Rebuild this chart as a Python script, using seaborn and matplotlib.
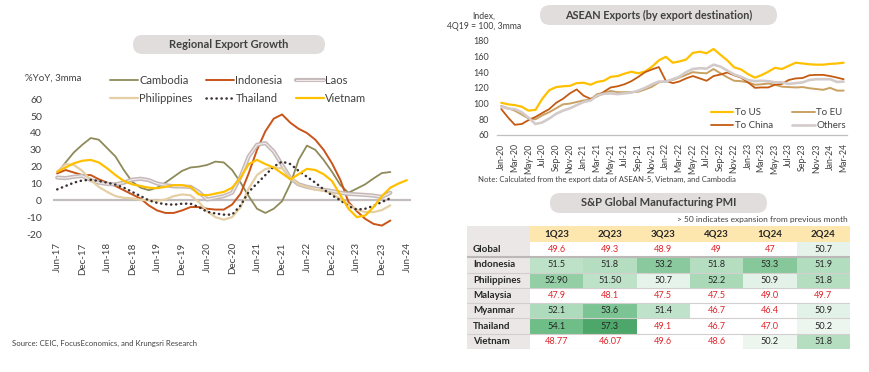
import numpy as np
import pandas as pd
import matplotlib
matplotlib.use("Agg")
import matplotlib.pyplot as plt
import matplotlib.patheffects as pe
from matplotlib.patches import FancyBboxPatch, Rectangle
from matplotlib.colors import LinearSegmentedColormap
import seaborn as sns

# ---------------- data: Regional Export Growth (%YoY, 3mma), bimonthly readings from Jun-17
growth_start = "2017-06-01"
cambodia = [16, 22.5, 28.5, 33, 37, 36, 31, 26, 18, 11,
            7.5, 6, 7.5, 10.5, 14, 17.5, 19.5, 20, 21, 23,
            22.5, 18, 10.5, 2.5, -5, -7.5, -5, -0.5, 10, 24,
            32.5, 30, 24, 17, 9, 4.5, 7, 9.5, 13, 16.2, 16.8]
indonesia = [16, 18, 16.5, 15, 15, 12.5, 10.5, 8.5, 6, 3.5,
             1, -3, -6, -7.5, -7.5, -6, -4, -4, -5, -5.5,
             -5.5, -2.5, 4, 16, 30, 41, 48.5, 51, 46, 42.5,
             40, 36, 30, 22, 12, -1, -6.5, -11, -14, -15, -12]
laos = [13.5, 13.2, 14, 14.5, 12, 10.5, 9.7, 9.5, 10.5, 12.3,
        12.8, 12, 10, 9, 8.3, 8.2, 8, 5, 0.5, 1.5,
        2.5, 4.5, 14, 26, 33, 34, 29, 21, 13, 9.5,
        8, 7, 6.3, 5.5, 4.5, 3.8, 3.5, 3.2, 2.8, 2, 4.5]
philippines = [17, 21.5, 21, 17.5, 12, 8, 5, 2.5, 1.5, 1.2,
               0.3, 0, -0.3, 0.5, 2.5, 3.5, 3, -1, -6.5, -10,
               -11.5, -10, -4, 7, 15, 18.6, 19.5, 19, 13.5, 9.5,
               8, 6.3, 5.8, 4, 0.8, -2.5, -5.5, -7, -7, -5.8, -3]
thailand = [6.5, 8.5, 10.5, 11.8, 12.2, 11.5, 10.5, 9.3, 7.5, 5,
            2.5, 0, -1.5, -2.3, -2.6, -2, -2, -4, -6.8, -7.8,
            -8.5, -8.5, -3, 5, 10, 15, 20, 23, 21.5, 17.5,
            14, 10.5, 6.5, 3, 0, -3.5, -5.5, -5, -3.3, -1, 1.3]
vietnam = [17, 19.5, 22, 23.5, 24, 22.5, 19, 15, 11.5, 9.5,
           8.5, 7.5, 7.2, 8, 9, 9, 8, 3.5, 3, 4,
           5, 7.5, 13.5, 21.5, 24, 21.5, 19.5, 16, 12.5, 15.5,
           18.7, 18, 15.5, 11.5, 3, -5, -10, -9, -4, 2.5,
           7.5, 10, 12]
growth_ticks = ["Jun-17", "Dec-17", "Jun-18", "Dec-18", "Jun-19", "Dec-19", "Jun-20",
                "Dec-20", "Jun-21", "Dec-21", "Jun-22", "Dec-22", "Jun-23", "Dec-23", "Jun-24"]

# ---------------- data: ASEAN Exports by destination (Index 4Q19=100, 3mma), monthly from Jan-20
exports_start = "2020-01-01"
to_us = [101, 99, 98, 96, 91, 92, 106, 117, 121, 122,
         122.5, 126, 126.5, 124, 127.5, 129, 134, 135, 138, 140.5,
         138.5, 141, 147, 155, 159.5, 152, 153.5, 156, 164.5, 166,
         164, 169.5, 162, 155, 146, 143.5, 137.5, 133, 136, 140.5,
         145.5, 144, 148, 152, 151, 150, 149.5, 149.5, 150.5, 151, 152]
to_eu = [97, 94, 91, 86, 81, 80, 85, 89, 94, 99,
         100, 102, 104, 105, 112, 113.5, 116, 114.5, 114.5, 114.5,
         115, 118, 121.5, 127, 128, 130, 133, 136.5, 140, 139,
         138.5, 144, 138.5, 133.5, 129, 128.5, 127, 124, 124.5, 125.5,
         124, 121.5, 121, 120.5, 121, 119.5, 118.5, 117.5, 120, 116.5, 116.5]
to_china = [93, 82, 73, 74, 79, 83, 88, 93, 101, 106,
            113, 118, 110, 106, 109, 115, 120.5, 122, 124.5, 128.5,
            134, 140, 143.5, 146.5, 129, 126, 128, 132, 135, 132,
            129, 135, 137, 139.5, 136, 133, 127, 120, 120.5, 120.5,
            124, 125, 130, 132, 132.5, 136, 136.5, 136.5, 135, 133, 131]
others = [96, 93.5, 93, 89, 82, 74, 76, 81, 87, 91,
          94, 98, 102, 104, 110, 112.5, 113, 112, 113, 114,
          116.5, 120, 124.5, 128, 128, 131, 134, 140, 144, 145,
          144.5, 149.5, 147, 142, 137, 134, 130, 128.5, 129, 128.5,
          127, 127, 125, 126, 127, 130, 131, 131, 131, 127.5, 128]
export_ticks = ["Jan-20", "Mar-20", "May-20", "Jul-20", "Sep-20", "Nov-20",
                "Jan-21", "Mar-21", "May-21", "Jul-21", "Sep-21", "Nov-21",
                "Jan-22", "Mar-22", "May-22", "Jul-22", "Sep-22", "Nov-22",
                "Jan-23", "Mar-23", "May-23", "Jul-23", "Sep-23", "Nov-23",
                "Jan-24", "Mar-24"]

# ---------------- data: S&P Global Manufacturing PMI
pmi_quarters = ["1Q23", "2Q23", "3Q23", "4Q23", "1Q24", "2Q24"]
pmi_countries = ["Global", "Indonesia", "Philippines", "Malaysia", "Myanmar", "Thailand", "Vietnam"]
pmi_global = ["49.6", "49.3", "48.9", "49", "47", "50.7"]
pmi_indonesia = ["51.5", "51.8", "53.2", "51.8", "53.3", "51.9"]
pmi_philippines = ["52.90", "51.50", "50.7", "52.2", "50.9", "51.8"]
pmi_malaysia = ["47.9", "48.1", "47.5", "47.5", "49.0", "49.7"]
pmi_myanmar = ["52.1", "53.6", "51.4", "46.7", "46.4", "50.9"]
pmi_thailand = ["54.1", "57.3", "49.1", "46.7", "47.0", "50.2"]
pmi_vietnam = ["48.77", "46.07", "49.6", "48.6", "50.2", "51.8"]

# ---------------- styling
sns.set_theme(style="white")
plt.rcParams["font.family"] = ["Lato", "DejaVu Sans"]
TXT = "#404040"
W, H = 870, 372

fig = plt.figure(figsize=(W / 100, H / 100), dpi=100)
fig.patch.set_facecolor("white")


def rect(x, y, w, h):
    return [x / W, 1 - (y + h) / H, w / W, h / H]


def pill(cx, cy, w, h, text, fs):
    box = FancyBboxPatch(((cx - w / 2) / 100, (H - cy - h / 2) / 100), w / 100, h / 100,
                         boxstyle=f"round,pad=0,rounding_size={h / 200}",
                         transform=fig.dpi_scale_trans, fc="#e2dddd", ec="none")
    fig.add_artist(box)
    fig.text(cx / W, 1 - cy / H, text, ha="center", va="center", fontsize=fs,
             fontweight="bold", color=TXT)


# ================= Left: Regional Export Growth
ax1 = fig.add_axes(rect(53, 99.3, 358, 134.7))
ax1.axhline(0, color="#c4bdbd", lw=1.6, zorder=1)
series = [
    ("Cambodia", cambodia, dict(color="#8f8a5a", lw=1.3)),
    ("Indonesia", indonesia, dict(color="#c9541a", lw=1.4)),
    ("Laos", laos, dict(color="#efe9e9", lw=0.9,
                        path_effects=[pe.Stroke(linewidth=3.0, foreground="#c4b8b8"), pe.Normal()])),
    ("Philippines", philippines, dict(color="#e5cfa4", lw=1.6)),
    ("Thailand", thailand, dict(color="#3d3030", lw=1.8, linestyle=(0, (0.1, 1.9)),
                                dash_capstyle="round")),
    ("Vietnam", vietnam, dict(color="#ffc000", lw=1.6)),
]
for name, vals, kw in series:
    d = pd.date_range(growth_start, periods=len(vals), freq="2MS")
    sns.lineplot(x=d, y=vals, ax=ax1, label=name, **kw)

ax1.set_xlim(pd.Timestamp("2017-05-01"), pd.Timestamp("2024-07-01"))
ax1.set_ylim(-20, 60)
ax1.set_yticks(range(-20, 61, 10))
ax1.set_yticklabels([str(v) for v in range(-20, 61, 10)])
ax1.set_xticks(pd.date_range(growth_start, periods=len(growth_ticks), freq="6MS"))
ax1.set_xticklabels(growth_ticks, rotation=90)
ax1.tick_params(axis="y", length=0, labelsize=7.5, colors=TXT, pad=8)
ax1.tick_params(axis="x", length=0, labelsize=7, colors=TXT, pad=6)
for s in ax1.spines.values():
    s.set_visible(False)
ax1.set_xlabel("")
ax1.set_ylabel("")
h1, l1 = ax1.get_legend_handles_labels()
order1 = ["Cambodia", "Philippines", "Indonesia", "Thailand", "Laos", "Vietnam"]
ax1.legend([h1[l1.index(n)] for n in order1], order1, ncol=3, loc="upper left",
           bbox_to_anchor=(110 / W, 1 - 75 / H), bbox_transform=fig.transFigure,
           frameon=False, fontsize=8, handlelength=2.5, handletextpad=0.15,
           columnspacing=1.2, labelspacing=0.65, borderpad=0, borderaxespad=0,
           labelcolor=TXT)

pill(229, 44.5, 192, 19, "Regional Export Growth", 8)
fig.text(25 / W, 1 - 78 / H, "%YoY, 3mma", fontsize=7, va="center", color=TXT)
fig.text(12 / W, 1 - 343 / H, "Source: CEIC, FocusEconomics, and Krungsri Research",
         fontsize=5.6, va="center", color=TXT)

# ================= Right top: ASEAN Exports by destination
ax2 = fig.add_axes(rect(497, 40.7, 350, 94.3))
dest = [
    ("To US", to_us, dict(color="#ffc000", lw=1.6)),
    ("To EU", to_eu, dict(color="#c9a163", lw=1.4)),
    ("To China", to_china, dict(color="#c55a11", lw=1.3)),
    ("Others", others, dict(color="#d3caca", lw=1.9)),
]
for name, vals, kw in dest:
    d = pd.date_range(exports_start, periods=len(vals), freq="MS")
    sns.lineplot(x=d, y=vals, ax=ax2, label=name, **kw)
ax2.set_xlim(pd.Timestamp("2019-12-13"), pd.Timestamp("2024-03-16"))
ax2.set_ylim(60, 180)
ax2.set_yticks(range(60, 181, 20))
ax2.set_yticklabels([str(v) for v in range(60, 181, 20)])
ax2.set_xticks(pd.date_range(exports_start, periods=len(export_ticks), freq="2MS"))
ax2.set_xticklabels(export_ticks, rotation=90)
ax2.tick_params(axis="y", length=0, labelsize=6.5, colors=TXT, pad=6)
ax2.tick_params(axis="x", length=0, labelsize=6.3, colors=TXT, pad=6)
for k, s in ax2.spines.items():
    s.set_visible(k == "bottom")
ax2.spines["bottom"].set_color("#bfbfbf")
ax2.spines["bottom"].set_linewidth(0.9)
ax2.set_xlabel("")
ax2.set_ylabel("")
h2, l2 = ax2.get_legend_handles_labels()
order2 = ["To US", "To China", "To EU", "Others"]
ax2.legend([h2[l2.index(n)] for n in order2], order2, ncol=2, loc="upper left",
           bbox_to_anchor=(711 / W, 1 - 108 / H), bbox_transform=fig.transFigure,
           frameon=False, fontsize=7, handlelength=2.3, handletextpad=0.15,
           columnspacing=2.0, labelspacing=0.45, borderpad=0, borderaxespad=0,
           labelcolor=TXT)

pill(658.5, 15, 237, 20, "ASEAN Exports (by export destination)", 7.8)
fig.text(484 / W, 1 - 16.5 / H, "Index,", ha="center", va="center", fontsize=6.2, color=TXT)
fig.text(484 / W, 1 - 26.5 / H, "4Q19 = 100, 3mma", ha="center", va="center", fontsize=6.2, color=TXT)
fig.text(478 / W, 1 - 179 / H,
         "Note: Calculated from the export data of ASEAN-5, Vietnam, and Cambodia",
         fontsize=5.6, va="center", color=TXT)

# ================= Right bottom: PMI table
pmi_labels = [pmi_global, pmi_indonesia, pmi_philippines, pmi_malaysia,
              pmi_myanmar, pmi_thailand, pmi_vietnam]
pmi_values = np.array([[float(s) for s in row] for row in pmi_labels])

ax3 = fig.add_axes(rect(467, 226, 383, 123))
cmap = LinearSegmentedColormap.from_list(
    "pmi", [(0, "#eef7f1"), (0.123, "#e3f2e8"), (0.178, "#c2e4cc"), (0.274, "#b0dcbd"),
            (0.411, "#8fcca2"), (0.562, "#6fbe88"), (1, "#4ea76a")])
cmap.set_under("white")
sns.heatmap(pmi_values, ax=ax3, cmap=cmap, vmin=50, vmax=57.3, cbar=False,
            annot=np.array(pmi_labels), fmt="", annot_kws={"fontsize": 6.6},
            xticklabels=False, yticklabels=False)
for t in ax3.texts:
    t.set_color("#e0262c" if float(t.get_text()) < 50 else "#262626")

lab_w = 63 / 53.33
hdr_h = 16 / 15.3
ax3.set_xlim(-lab_w, 6)
ax3.set_ylim(7, -hdr_h)
ax3.add_patch(Rectangle((-lab_w, -hdr_h), lab_w, 7 + hdr_h, fc="#ebe7e7", ec="none", zorder=0.5))
ax3.add_patch(Rectangle((0, -hdr_h), 6, hdr_h, fc="#fde7ae", ec="none", zorder=0.5))
for yv in range(1, 8):
    ax3.plot([-lab_w, 6], [yv, yv], color="#bdb8b8" if yv == 1 else "#d3cfcf",
             lw=1.5 if yv == 1 else 0.8, zorder=3)
for j, q in enumerate(pmi_quarters):
    ax3.text(j + 0.5, -hdr_h / 2, q, ha="center", va="center", fontsize=7,
             fontweight="bold", color="#262626")
for i, c in enumerate(pmi_countries):
    ax3.text(-lab_w + 0.11, i + 0.5, c, ha="left", va="center", fontsize=7,
             fontweight="bold", color="#262626")
ax3.tick_params(length=0)
for s in ax3.spines.values():
    s.set_visible(False)

pill(658.5, 203, 217, 20, "S&P Global Manufacturing PMI", 8)
fig.text(848 / W, 1 - 219.5 / H, "> 50 indicates expansion from previous month",
         ha="right", va="center", fontsize=6, color=TXT)

fig.savefig("out.png", dpi=100)
